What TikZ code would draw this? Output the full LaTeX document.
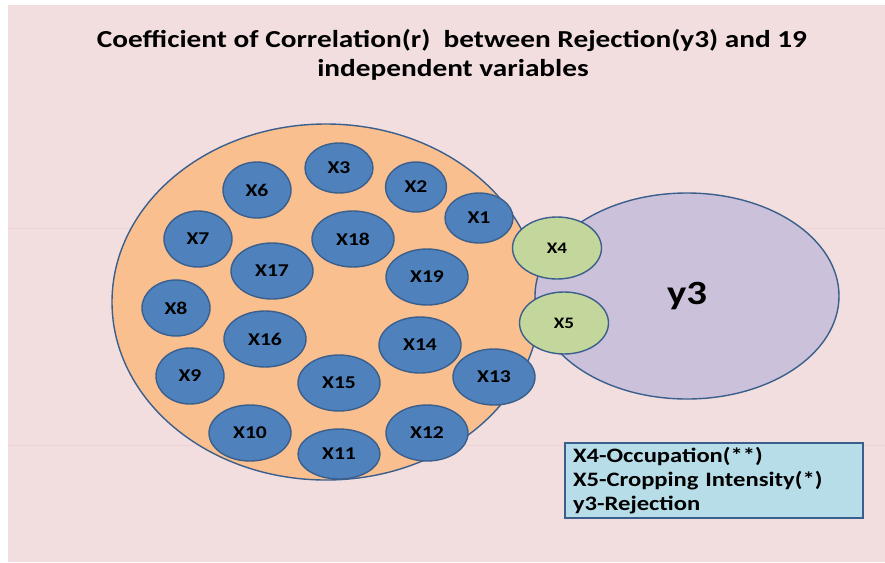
\documentclass[tikz,border=0pt]{standalone}
\usepackage{fontspec}
\setmainfont{Carlito}[FakeStretch=1.2]
\usepackage{xcolor}
\usepackage{tikz}
\usetikzlibrary{shapes.geometric}

\definecolor{bgpink}{HTML}{F2DEDF}
\definecolor{bgline}{HTML}{EDD3D4}
\definecolor{edgeblue}{HTML}{3A5F8C}
\definecolor{varblue}{HTML}{4F81BD}
\definecolor{poolorange}{HTML}{F9BF8F}
\definecolor{ylilac}{HTML}{CCC1DA}
\definecolor{sigreen}{HTML}{C3D69B}
\definecolor{keyblue}{HTML}{B7DDE8}

\begin{document}
\begin{tikzpicture}[x=1pt,y=-1pt]
	\tikzstyle{blob}=[ellipse,draw=edgeblue,line width=1.4pt,inner sep=0pt]
	\tikzstyle{var}=[blob,fill=varblue,minimum width=82pt,minimum height=56pt,font=\fontsize{18}{18}\selectfont\bfseries]
	\tikzstyle{smallvar}=[var,minimum width=68pt]
	\tikzstyle{sig}=[blob,fill=sigreen,minimum width=89pt,minimum height=62pt,font=\fontsize{16}{16}\selectfont\bfseries]
	\useasboundingbox (0,0) rectangle (885,562);
	\fill[bgpink] (8,5) rectangle (885,562);
	\draw[bgline] (8,228) -- (885,228);
	\draw[bgline] (8,445) -- (885,445);
	% title
	\node(title1) at (452,41) {\fontsize{24.4}{29}\selectfont\bfseries Coefficient of Correlation(r) \ between Rejection(y3) and 19};
	\node(title2) at (453,70) {\fontsize{24.4}{29}\selectfont\bfseries independent variables};
	% the two big sets
	\node[blob,fill=poolorange,minimum width=428pt,minimum height=356pt](pool) at (326,302) {};
	\node[blob,fill=ylilac,minimum width=304pt,minimum height=206pt,font=\fontsize{34}{34}\selectfont\bfseries](y3) at (687,296) {y3};
	% independent variables
	\node[smallvar,minimum height=50pt](x3) at (339,168) {X3};
	\node[smallvar](x6) at (257,190) {X6};
	\node[smallvar,minimum width=61pt,minimum height=50pt](x2) at (416,187) {X2};
	\node[smallvar,minimum height=50pt](x1) at (479,218) {X1};
	\node[smallvar](x7) at (198,239) {X7};
	\node[var](x18) at (353,239) {X18};
	\node[var](x17) at (272,271) {X17};
	\node[var](x19) at (427,277) {X19};
	\node[smallvar](x8) at (176,308) {X8};
	\node[var](x16) at (265,339) {X16};
	\node[var](x14) at (420,345) {X14};
	\node[smallvar](x9) at (190,376) {X9};
	\node[var](x15) at (339,383) {X15};
	\node[var](x13) at (494,377) {X13};
	\node[var](x10) at (250,433) {X10};
	\node[var](x12) at (427,433) {X12};
	\node[var,minimum height=50pt](x11) at (339,454) {X11};
	% significant ones
	\node[sig](x4) at (557,248) {X4};
	\node[sig](x5) at (564,323) {X5};
	% key
	\node[draw=edgeblue,line width=2pt,fill=keyblue,anchor=north west,minimum width=298pt,minimum height=75pt,text width=282pt,inner xsep=8pt,align=left,font=\fontsize{20.5}{24}\selectfont\bfseries](key) at (564,442) {X4-Occupation(**)\\X5-Cropping Intensity(*)\\y3-Rejection};
\end{tikzpicture}
\end{document}
